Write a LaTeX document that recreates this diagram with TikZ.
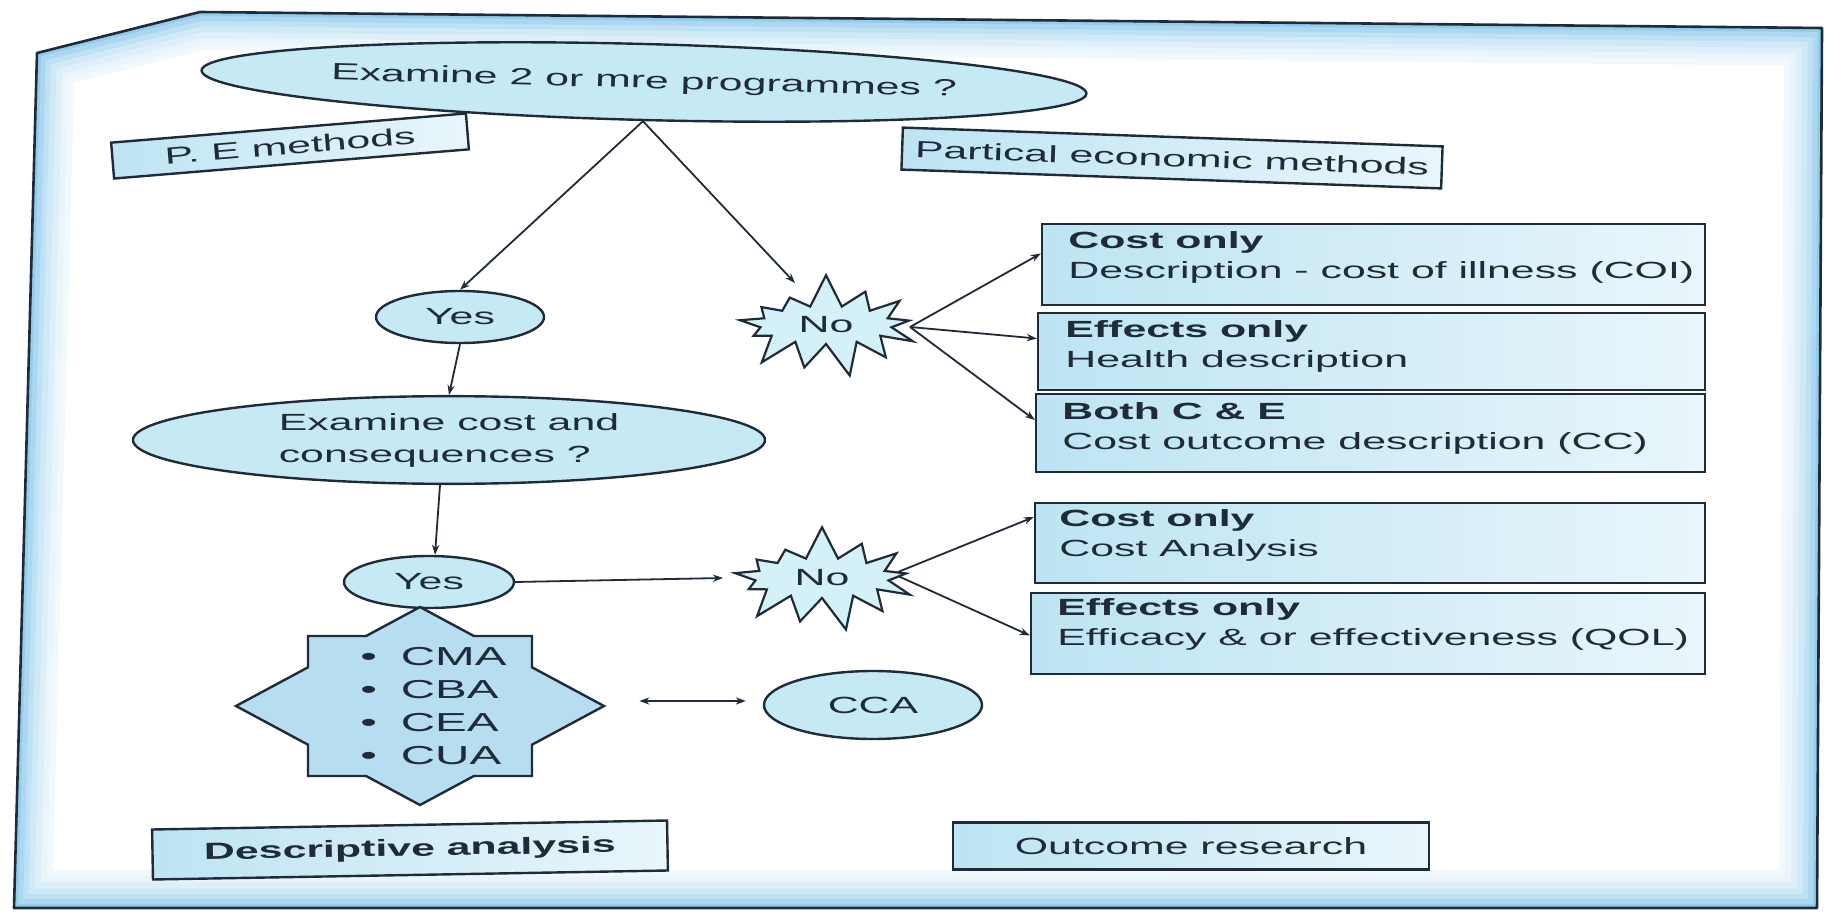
\documentclass[tikz,border=0pt]{standalone}
\usepackage{fontspec}
\setmainfont{Liberation Sans}
\usepackage{graphicx}
\usetikzlibrary{shapes.geometric,shapes.symbols,arrows.meta,calc}

\definecolor{ink}{HTML}{1F2B38}
\definecolor{ellfill}{HTML}{C6EAF4}
\definecolor{boxL}{HTML}{BDE4F3}
\definecolor{boxR}{HTML}{E9F6FB}
\definecolor{starfill}{HTML}{D4F1F8}
\definecolor{octfill}{HTML}{B6DDF0}
\definecolor{frameblue}{HTML}{7FC3E8}

\newcommand{\sx}[1]{\scalebox{1.83}[1]{#1}}
\newcommand{\framepath}{(37,53) -- (200,12) -- (1822,28) -- (1817,908) -- (14,908) -- cycle}

\begin{document}
\begin{tikzpicture}[x=0.5pt,y=-0.5pt,
  every node/.style={font=\fontsize{11.7}{15}\selectfont, text=ink, inner sep=0pt},
  ell/.style={ellipse, draw=ink, line width=1.2pt, fill=ellfill},
  rbox/.style={rectangle, draw=ink, line width=1.2pt, left color=boxL, right color=boxR},
  burst/.style={starburst, draw=ink, line width=1.1pt, fill=starfill, starburst points=13, starburst point height=17pt, random starburst=7},
  arr/.style={draw=ink, line width=0.9pt, -{Stealth[length=5pt,width=3.6pt]}},
  dblarr/.style={draw=ink, line width=0.9pt, {Stealth[length=5pt,width=3.6pt]}-{Stealth[length=5pt,width=3.6pt]}},
]
\useasboundingbox (0,0) rectangle (1829,914);
\fill[white] (0,0) rectangle (1829,914);

% frame
\fill[white] \framepath;
\begin{scope}
  \clip \framepath;
  \foreach \w/\c in {38/10, 32/17, 26/26, 20/37, 14/50, 9/66, 4/84}
    \draw[frameblue!\c, line width=\w pt, line join=round] \framepath;
\end{scope}
\draw[ink, line width=1.3pt, line join=round] \framepath;

% top question
\node[ell, minimum width=414pt, minimum height=38pt, rotate=-1.5] (q1) at (644,82) {\sx{Examine 2 or mre programmes ?}};
\node[rbox, minimum width=178pt, minimum height=18pt, rotate=4.7] (pe) at (290,146) {\sx{P. E methods}};
\node[rbox, minimum width=270pt, minimum height=21pt, rotate=-2] (pm) at (1172,158) {\sx{Partical economic methods}};

\node[ell, minimum width=84pt, minimum height=26pt] (y1) at (460,317) {\sx{Yes}};
\node[burst, minimum width=100pt, minimum height=53pt] (n1) at (826,325) {\sx{No}};

% right boxes (upper)
\node[rbox, minimum width=331.5pt, minimum height=40.5pt] (b1) at (1373.5,264.5) {};
\node[anchor=west] (t1) at (1068,258) {\sx{\begin{tabular}{@{}l@{}}\textbf{Cost only}\\Description - cost of illness (COI)\end{tabular}}};
\node[rbox, minimum width=333.5pt, minimum height=38.5pt] (b2) at (1371.5,351.5) {};
\node[anchor=west] (t2) at (1065,346.5) {\sx{\begin{tabular}{@{}l@{}}\textbf{Effects only}\\Health description\end{tabular}}};
\node[rbox, minimum width=334.5pt, minimum height=39pt] (b3) at (1370.5,433) {};
\node[anchor=west] (t3) at (1062,428) {\sx{\begin{tabular}{@{}l@{}}\textbf{Both C \& E}\\Cost outcome description (CC)\end{tabular}}};

% second question
\node[ell, minimum width=316pt, minimum height=40pt] (ex) at (449,440) {\sx{\begin{tabular}{@{}l@{}}Examine cost and\\[1pt]consequences ?\end{tabular}}};
\node[ell, minimum width=85pt, minimum height=26pt] (y2) at (429,582) {\sx{Yes}};
\node[burst, minimum width=101pt, minimum height=54pt] (n2) at (822,578) {\sx{No}};

% right boxes (lower)
\node[rbox, minimum width=335pt, minimum height=40pt] (b4) at (1370,543) {};
\node[anchor=west] (t4) at (1059,535) {\sx{\begin{tabular}{@{}l@{}}\textbf{Cost only}\\Cost Analysis\end{tabular}}};
\node[rbox, minimum width=337pt, minimum height=40.5pt] (b5) at (1368,633.5) {};
\node[anchor=west] (t5) at (1057,624) {\sx{\begin{tabular}{@{}l@{}}\textbf{Effects only}\\Efficacy \& or effectiveness (QOL)\end{tabular}}};

% eight-pointed star
\filldraw[draw=ink, line width=1.2pt, fill=octfill, line join=miter, shift={(420,706)}]
  (0,-99) -- (53.9,-70) -- (112,-70) -- (112,-38.7) -- (184,0) -- (112,38.7) -- (112,70)
  -- (53.9,70) -- (0,99) -- (-53.9,70) -- (-112,70) -- (-112,38.7) -- (-184,0)
  -- (-112,-38.7) -- (-112,-70) -- (-53.9,-70) -- cycle;
\node[minimum width=184pt, minimum height=99pt] (oct) at (420,706) {};
\node[anchor=west, font=\fontsize{13}{16.5}\selectfont] (list) at (360,708)
  {\sx{\begin{tabular}{@{}l@{}}\textbullet\enspace CMA\\\textbullet\enspace CBA\\\textbullet\enspace CEA\\\textbullet\enspace CUA\end{tabular}}};

\node[ell, minimum width=109pt, minimum height=34pt] (cca) at (873,705) {\sx{CCA}};

\node[rbox, minimum width=257.5pt, minimum height=25pt, rotate=1] (da) at (410,850) {\sx{\textbf{Descriptive analysis}}};
\node[rbox, minimum width=238pt, minimum height=23.5pt] (orr) at (1191,846) {\sx{Outcome research}};

% connectors
\draw[arr] (q1.south) -- (y1.north);
\draw[arr] (q1.south) -- ($(n1.center)+(-31,-42)$);
\draw[arr] (y1.south) -- (ex.north);
\draw[arr] ($(ex.south)+(-9,0)$) -- ($(y2.north)+(6,0)$);
\draw[arr] ($(n1.center)+(84,2)$) -- ([yshift=5.5pt]b1.west);
\draw[arr] ($(n1.center)+(84,2)$) -- ([yshift=6.5pt]b2.west);
\draw[arr] ($(n1.center)+(84,2)$) -- ([yshift=6.5pt]b3.west);
\draw[arr] (y2.east) -- ($(n2.center)+(-99,0)$);
\draw[arr] ($(n2.center)+(76,-6)$) -- ([yshift=13pt]b4.west);
\draw[arr] ($(n2.center)+(76,-2)$) -- ([yshift=-1pt]b5.west);
\draw[dblarr] ($(oct.east)+(35,-5)$) -- ($(cca.west)+(-17,-4)$);
\end{tikzpicture}
\end{document}
